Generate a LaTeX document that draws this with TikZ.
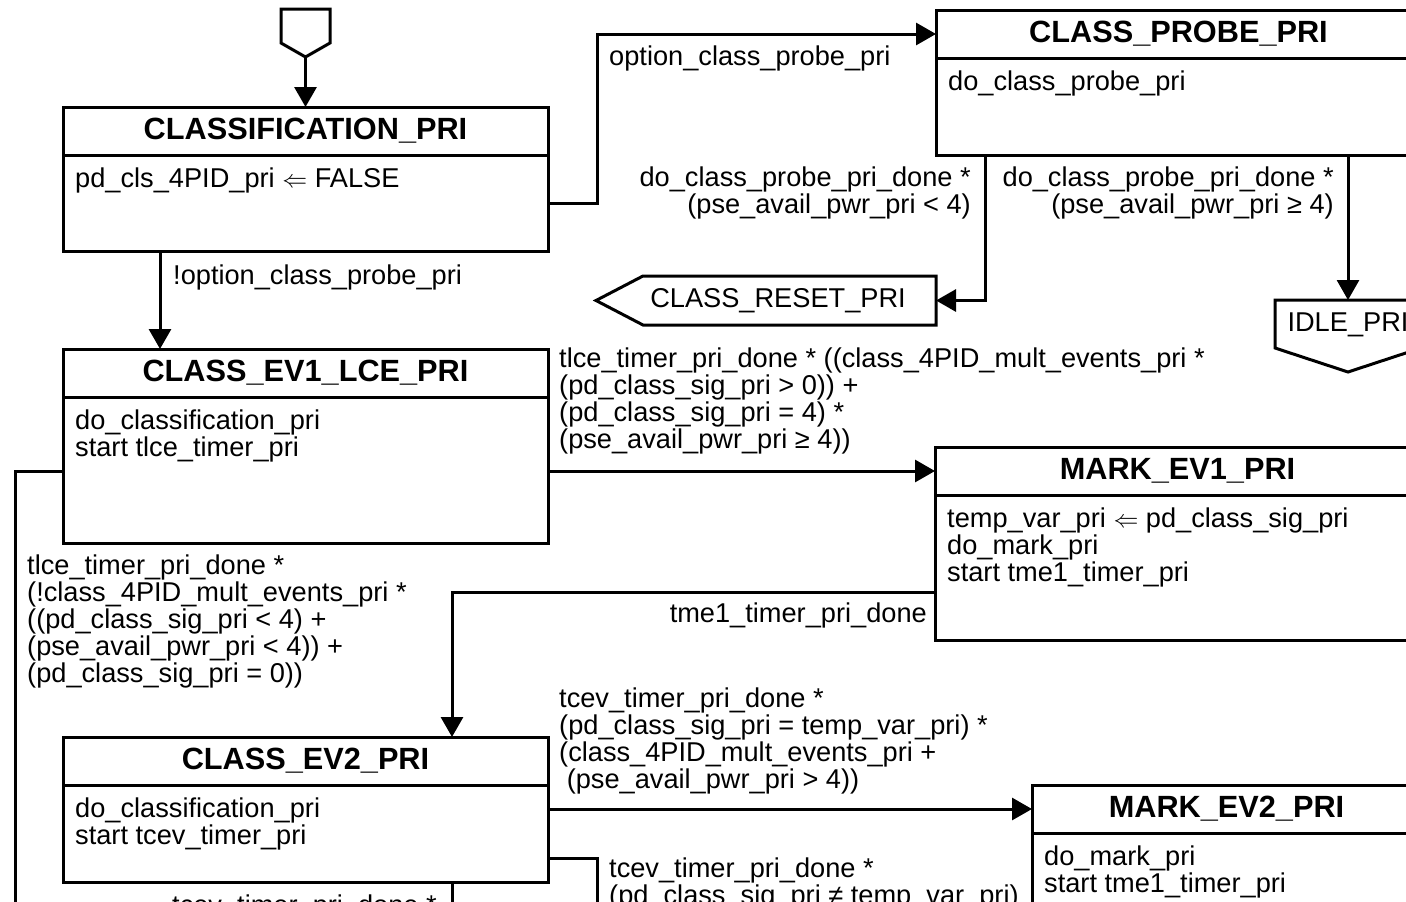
\documentclass[tikz,border=0pt]{standalone}
\usepackage{fontspec}
\setmainfont{Liberation Sans}
\usetikzlibrary{arrows.meta}
\newcommand\lfont{\fontsize{27.2}{27}\selectfont}
\tikzset{
  stitle/.style={draw, line width=3pt, anchor=north west, minimum height=48pt, inner sep=0pt, outer sep=0pt, font=\fontsize{30.7}{31}\selectfont\bfseries},
  sbody/.style={draw, line width=3pt, anchor=north west, inner sep=0pt, outer sep=0pt},
  stext/.style={anchor=north west, align=left, inner xsep=12pt, inner ysep=12.5pt, font=\lfont},
  lbl/.style={inner sep=0pt, font=\lfont},
  trans/.style={line width=3pt, -{Triangle[length=20pt,width=22pt]}},
  wire/.style={line width=3pt},
  pstate/.style={line width=3pt, line join=miter}
}
\begin{document}
\begin{tikzpicture}[x=1pt,y=-1pt]
  \useasboundingbox (0,0) rectangle (1406,902);
  \clip (0,0) rectangle (1406,902);
  % states
  \foreach \n/\x/\y/\w/\h/\t in {cls/63/107/485/96/CLASSIFICATION\_PRI,
      probe/936/10/485/97/CLASS\_PROBE\_PRI,
      ev1/63/349/485/146/CLASS\_EV1\_LCE\_PRI,
      mark1/935/447/485/145/MARK\_EV1\_PRI,
      ev2/63/737/485/97/CLASS\_EV2\_PRI,
      mark2/1032/785/389/200/MARK\_EV2\_PRI} {
    \node[stitle, minimum width=\w pt] (\n) at (\x,\y) {\t};
    \node[sbody, minimum width=\w pt, minimum height=\h pt] (\n-b) at (\n.south west) {};
  }
  \node[stext] (cls-t) at (cls-b.north west) {pd\_cls\_4PID\_pri $\Leftarrow$ FALSE};
  \node[stext] (probe-t) at (probe-b.north west) {do\_class\_probe\_pri};
  \node[stext] (ev1-t) at (ev1-b.north west) {do\_classification\_pri\\start tlce\_timer\_pri};
  \node[stext] (mark1-t) at (mark1-b.north west) {temp\_var\_pri $\Leftarrow$ pd\_class\_sig\_pri\\do\_mark\_pri\\start tme1\_timer\_pri};
  \node[stext] (ev2-t) at (ev2-b.north west) {do\_classification\_pri\\start tcev\_timer\_pri};
  \node[stext] (mark2-t) at (mark2-b.north west) {do\_mark\_pri\\start tme1\_timer\_pri};
  % pseudo states
  \draw[pstate] (281,9) -- (330,9) -- (330,43) -- (305.5,57) coordinate (init) -- (281,43) -- cycle;
  \draw[pstate] (936,276) -- (936,300.5) coordinate (rst-e) -- (936,325) -- (643,325) -- (596,300.5) -- (643,276) -- cycle;
  \node[lbl] (rst) at (778,301) {CLASS\_RESET\_PRI};
  \draw[pstate] (1275,300) -- (1348,300) coordinate (idle-n) -- (1421,300) -- (1421,348) -- (1348,372) -- (1275,348) -- cycle;
  \node[lbl] (idle) at (1348,325) {IDLE\_PRI};
  \coordinate (offL) at (15,950);
  \coordinate (offR) at (597,950);
  \coordinate (offB) at (452,950);
  % transitions
  \draw[trans] (init) -- (cls.north);
  \draw[trans] (cls-b.east) -- ++(49,0) |- (probe.west);
  \draw[trans] ([xshift=97pt]cls-b.south west) -- ([xshift=97pt]ev1.north west);
  \draw[trans] ([xshift=49pt]probe-b.south west) |- (rst-e);
  \draw[trans] (idle-n |- probe-b.south) -- (idle-n);
  \draw[trans] (ev1-b.east |- mark1.west) -- (mark1.west);
  \draw[wire] (ev1-b.west |- mark1.west) -| (offL);
  \draw[trans] ([yshift=-25pt]mark1-b.west) -| ([xshift=389pt]ev2.north west);
  \draw[trans] (ev2-b.east |- mark2.west) -- (mark2.west);
  \draw[wire] ([yshift=-25pt]ev2-b.east) -| (offR);
  \draw[wire] (ev2-b.south -| offB) -- (offB);
  % labels
  \node[lbl, anchor=base west] (l-opt) at (609,65) {option\_class\_probe\_pri};
  \node[lbl, anchor=base west] (l-nopt) at (173,284) {!option\_class\_probe\_pri};
  \node[lbl, anchor=north east, align=right] (l-rst) at (971,167) {do\_class\_probe\_pri\_done *\\(pse\_avail\_pwr\_pri < 4)};
  \node[lbl, anchor=north east, align=right] (l-idle) at (1334,167) {do\_class\_probe\_pri\_done *\\(pse\_avail\_pwr\_pri ≥ 4)};
  \node[lbl, anchor=north west, align=left] (l-mk1) at (559,348) {tlce\_timer\_pri\_done * ((class\_4PID\_mult\_events\_pri *\\(pd\_class\_sig\_pri > 0)) +\\(pd\_class\_sig\_pri = 4) *\\(pse\_avail\_pwr\_pri ≥ 4))};
  \node[lbl, anchor=north west, align=left] (l-back) at (27,555) {tlce\_timer\_pri\_done *\\(!class\_4PID\_mult\_events\_pri *\\((pd\_class\_sig\_pri < 4) +\\(pse\_avail\_pwr\_pri < 4)) +\\(pd\_class\_sig\_pri = 0))};
  \node[lbl, anchor=base east] (l-tme) at (927,622) {tme1\_timer\_pri\_done};
  \node[lbl, anchor=north west, align=left] (l-mk2) at (559,688) {tcev\_timer\_pri\_done *\\(pd\_class\_sig\_pri = temp\_var\_pri) *\\(class\_4PID\_mult\_events\_pri +\\\ (pse\_avail\_pwr\_pri > 4))};
  \node[lbl, anchor=north west, align=left] (l-ne) at (609,858) {tcev\_timer\_pri\_done *\\(pd\_class\_sig\_pri ≠ temp\_var\_pri)};
  \node[lbl, anchor=base east] (l-bot) at (437,914) {tcev\_timer\_pri\_done *};
\end{tikzpicture}
\end{document}
